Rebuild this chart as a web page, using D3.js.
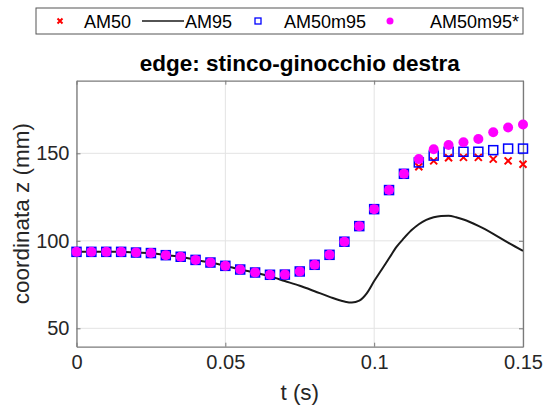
<!DOCTYPE html>
<html>
<head>
<meta charset="utf-8">
<script src="https://cdn.jsdelivr.net/npm/d3@7"></script>
<style>
  html, body { margin: 0; padding: 0; background: #fff; }
  svg { display: block; font-family: "Liberation Sans", Arial, Helvetica, sans-serif; }
</style>
</head>
<body>
<svg id="chart" width="547" height="407"></svg>
<script>
// ---------- data ----------
const tMarkers = d3.range(0, 31).map(i => +(i * 0.005).toFixed(3));
const AM50 = [93.7, 93.7, 93.7, 93.7, 93.3, 93.0, 91.8, 90.9, 89.1, 87.6, 85.7, 83.6, 81.9, 80.6, 80.7, 82.5, 86.3, 92.0, 99.5, 108.4, 118.1, 129.0, 138.3,
              142.3, 145.7, 147.5, 147.7, 147.7, 146.7, 145.7, 143.8];
const AM50m95 = [93.7, 93.7, 93.7, 93.7, 93.3, 93.0, 91.8, 90.9, 89.1, 87.6, 85.7, 83.6, 81.9, 80.6, 80.7, 82.5, 86.3, 92.0, 99.5, 108.4, 118.1, 129.0, 138.3,
                 144.8, 148.7, 150.9, 150.9, 150.9, 151.8, 152.7, 152.7];
const AM50m95s = [93.7, 93.7, 93.7, 93.7, 93.3, 93.0, 91.8, 90.9, 89.1, 87.6, 85.7, 83.6, 81.9, 80.6, 80.7, 82.5, 86.3, 92.0, 99.5, 108.4, 118.1, 129.0, 138.3,
                  146.7, 152.3, 154.8, 156.3, 158.2, 162.0, 164.8, 166.5];
const tLine = [0, 0.005, 0.01, 0.015, 0.02, 0.025, 0.03, 0.035, 0.04, 0.045, 0.05, 0.055, 0.06, 0.065, 0.07, 0.075, 0.08, 0.085, 0.09, 0.0925, 0.095,
               0.0975, 0.1, 0.1025, 0.105, 0.1075, 0.11, 0.1125, 0.115, 0.1175, 0.12, 0.1225, 0.125, 0.1275, 0.13, 0.135, 0.14, 0.145, 0.15];
const AM95 = [93.7, 93.7, 93.7, 93.7, 93.3, 93.0, 91.8, 90.9, 89.1, 87.6, 85.7, 83.6, 81.8, 79.7, 77.0, 74.3, 71.2, 68.0, 65.3, 64.7, 65.8,
              70.0, 77.0, 83.5, 90.0, 96.5, 101.5, 106.0, 109.5, 112.0, 113.5, 114.2, 114.3, 113.5, 112.2, 108.5, 104.0, 99.0, 94.3];
const xTicks = [0, 0.05, 0.1, 0.15];
const xTickLabels = ["0", "0.05", "0.1", "0.15"];
const yTicks = [50, 100, 150];
const yTickLabels = ["50", "100", "150"];
const legendLabels = ["AM50", "AM95", "AM50m95", "AM50m95*"];
const titleText = "edge: stinco-ginocchio destra";
const xLabelText = "t (s)";
const yLabelText = "coordinata z (mm)";

// ---------- layout ----------
const svg = d3.select("#chart");
const L = 76.5, R = 523, T = 80.7, B = 346.7;
const x = d3.scaleLinear().domain([0, 0.15]).range([L, R]);
const y = d3.scaleLinear().domain([39.5, 191.5]).range([B, T]);
const axisColor = "#262626";

// grid
const g = svg.append("g");
g.selectAll(".gx").data(xTicks).enter().append("line")
  .attr("x1", d => x(d)).attr("x2", d => x(d)).attr("y1", T).attr("y2", B)
  .attr("stroke", "#e3e3e3").attr("stroke-width", 1);
g.selectAll(".gy").data(yTicks).enter().append("line")
  .attr("x1", L).attr("x2", R).attr("y1", d => y(d)).attr("y2", d => y(d))
  .attr("stroke", "#e3e3e3").attr("stroke-width", 1);

// axes (inward ticks)
const xAxisB = d3.axisBottom(x).tickValues(xTicks).tickFormat((d, i) => xTickLabels[i]).tickSizeInner(-4).tickSizeOuter(0).tickPadding(8);
const xAxisT = d3.axisTop(x).tickValues(xTicks).tickFormat("").tickSizeInner(-4).tickSizeOuter(0);
const yAxisL = d3.axisLeft(y).tickValues(yTicks).tickFormat((d, i) => yTickLabels[i]).tickSizeInner(-4).tickSizeOuter(0).tickPadding(7);
const yAxisR = d3.axisRight(y).tickValues(yTicks).tickFormat("").tickSizeInner(-4).tickSizeOuter(0);

function styleAxis(sel) {
  sel.select(".domain").attr("stroke", "#7a7a7a").attr("stroke-width", 1.3);
  sel.selectAll(".tick line").attr("stroke", "#7a7a7a").attr("stroke-width", 1);
  sel.selectAll(".tick text").attr("fill", axisColor).style("font-size", "20px")
    .style("font-family", "'Liberation Sans', Arial, sans-serif");
}
svg.append("g").attr("transform", `translate(0,${B})`).call(xAxisB).call(styleAxis);
svg.append("g").attr("transform", `translate(0,${T})`).call(xAxisT).call(styleAxis);
svg.append("g").attr("transform", `translate(${L},0)`).call(yAxisL).call(styleAxis);
svg.append("g").attr("transform", `translate(${R},0)`).call(yAxisR).call(styleAxis);

// clip
svg.append("clipPath").attr("id", "clip").append("rect")
  .attr("x", L).attr("y", T).attr("width", R - L).attr("height", B - T);
const plot = svg.append("g");

// AM50: red x
const xs = 3.5;
plot.selectAll(".am50").data(AM50).enter().append("path")
  .attr("transform", (d, i) => `translate(${x(tMarkers[i])},${y(d)})`)
  .attr("d", `M${-xs},${-xs}L${xs},${xs}M${-xs},${xs}L${xs},${-xs}`)
  .attr("stroke", "#ff0000").attr("stroke-width", 2).attr("fill", "none");

// AM50: black line
const line = d3.line().x((d, i) => x(tLine[i])).y(d => y(d)).curve(d3.curveMonotoneX);
plot.append("path").datum(AM95).attr("d", line)
  .attr("fill", "none").attr("stroke", "#1a1a1a").attr("stroke-width", 2)
  .attr("clip-path", "url(#clip)");

// AM50m95: blue open squares
const sq = 9;
plot.selectAll(".am50m95").data(AM50m95).enter().append("rect")
  .attr("x", (d, i) => x(tMarkers[i]) - sq / 2).attr("y", d => y(d) - sq / 2)
  .attr("width", sq).attr("height", sq)
  .attr("fill", "none").attr("stroke", "#0000ff").attr("stroke-width", 1.5);

// AM50m95*: magenta dots
plot.selectAll(".am50m95s").data(AM50m95s).enter().append("circle")
  .attr("cx", (d, i) => x(tMarkers[i])).attr("cy", d => y(d)).attr("r", 5)
  .attr("fill", "#ff00ff");

// title & labels
svg.append("text").attr("x", (L + R) / 2).attr("y", 71).attr("text-anchor", "middle")
  .style("font-size", "22.5px").style("font-weight", "bold").attr("fill", "#000").text(titleText);
svg.append("text").attr("x", (L + R) / 2).attr("y", 400).attr("text-anchor", "middle")
  .style("font-size", "22.5px").attr("fill", axisColor).text(xLabelText);
svg.append("text").attr("transform", `translate(29,${(T + B) / 2}) rotate(-90)`).attr("text-anchor", "middle")
  .style("font-size", "22.5px").attr("fill", axisColor).text(yLabelText);

// legend
const lg = svg.append("g");
lg.append("rect").attr("x", 36).attr("y", 8).attr("width", 487).attr("height", 26)
  .attr("fill", "#fff").attr("stroke", "#555").attr("stroke-width", 1);
const ly = 21;
lg.append("path").attr("d", `M${60 - 2.5},${ly - 2.5}L${60 + 2.5},${ly + 2.5}M${60 - 2.5},${ly + 2.5}L${60 + 2.5},${ly - 2.5}`)
  .attr("stroke", "#ff0000").attr("stroke-width", 2);
lg.append("line").attr("x1", 142).attr("x2", 184).attr("y1", ly).attr("y2", ly).attr("stroke", "#1a1a1a").attr("stroke-width", 1.5);
lg.append("rect").attr("x", 255).attr("y", ly - 3).attr("width", 6).attr("height", 6)
  .attr("fill", "none").attr("stroke", "#0000ff").attr("stroke-width", 1.3);
lg.append("circle").attr("cx", 390).attr("cy", ly).attr("r", 3.5).attr("fill", "#ff00ff");
const legX = [84, 185, 284, 430];
lg.selectAll(".lt").data(legendLabels).enter().append("text")
  .attr("x", (d, i) => legX[i]).attr("y", ly + 6.5)
  .style("font-size", "18px").attr("fill", "#000").text(d => d);
</script>
</body>
</html>
